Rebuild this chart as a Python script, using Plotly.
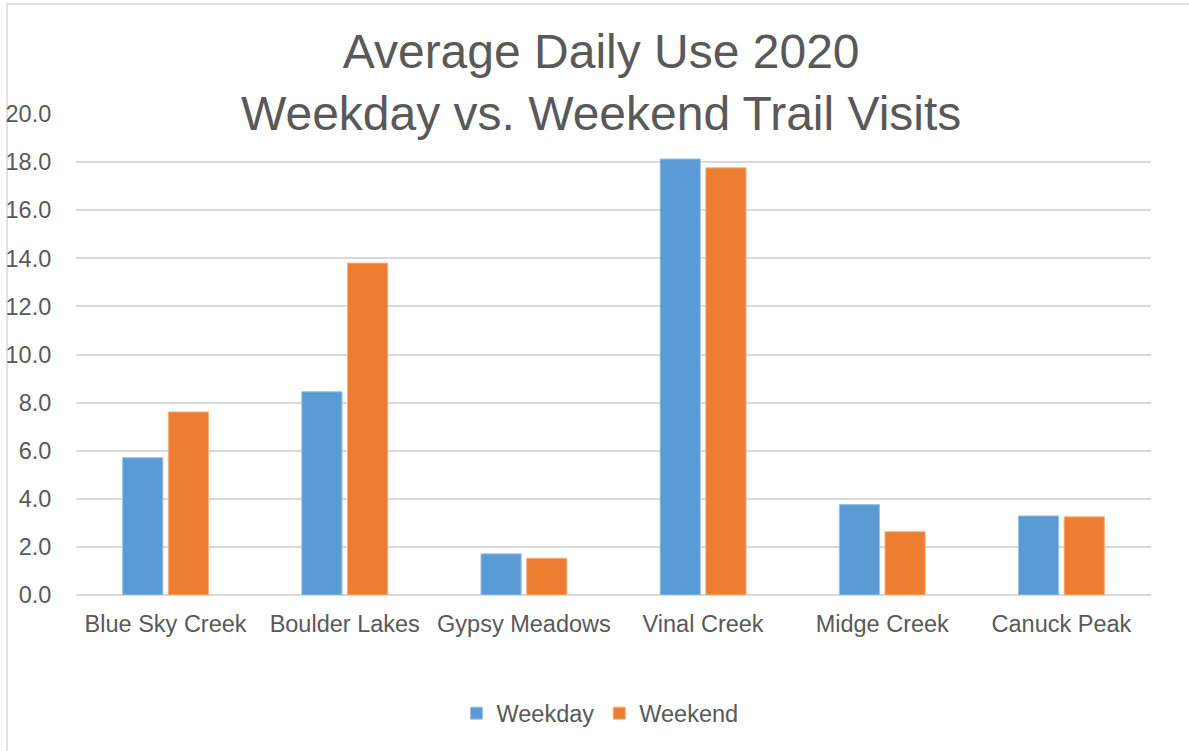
import plotly.graph_objects as go

categories = ["Blue Sky Creek", "Boulder Lakes", "Gypsy Meadows", "Vinal Creek", "Midge Creek", "Canuck Peak"]
weekday = [5.71, 8.45, 1.71, 18.13, 3.76, 3.29]
weekend = [7.61, 13.8, 1.53, 17.76, 2.63, 3.25]
y_ticks = [0, 2, 4, 6, 8, 10, 12, 14, 16, 18, 20]

FONT = "Liberation Sans, Arial, sans-serif"
GREY = "#595959"
GRID = "#D9D9D9"

# plot-area geometry in pixels (used to express paper coordinates)
PL, PR, PT, PB = 76, 1151, 114, 595.5
PW, PH = PR - PL, PB - PT

def px_x(x):
    return (x - PL) / PW

def px_y(y):
    return (PB - y) / PH

fig = go.Figure()
fig.add_trace(go.Bar(name="Weekday", x=categories, y=weekday,
                     marker=dict(color="#5B9BD5", line=dict(color="#9DC3E6", width=1))))
fig.add_trace(go.Bar(name="Weekend", x=categories, y=weekend,
                     marker=dict(color="#ED7D31", line=dict(color="#F4B183", width=1))))

fig.update_layout(
    width=1189, height=751,
    margin=dict(l=PL, r=1189 - PR, t=PT, b=751 - PB, pad=0, autoexpand=False),
    paper_bgcolor="white", plot_bgcolor="white",
    barmode="group", bargap=0.49, bargroupgap=0.12,
    font=dict(family=FONT, color=GREY, size=23.5),
    showlegend=True,
    legend=dict(orientation="h", x=px_x(600), xanchor="center", y=px_y(714), yanchor="middle",
                font=dict(family=FONT, size=23.5, color=GREY), itemwidth=30, traceorder="normal",
                bgcolor="rgba(0,0,0,0)"),
    xaxis=dict(showgrid=False, showline=False, ticks="outside", ticklen=8, tickcolor="rgba(0,0,0,0)",
               automargin=False, tickfont=dict(family=FONT, size=23.5, color=GREY)),
    yaxis=dict(range=[0, 20], tickvals=y_ticks, tickformat=".1f", showgrid=True, gridcolor=GRID, gridwidth=1.5,
               zeroline=True, zerolinecolor=GRID, zerolinewidth=1.5, showline=False,
               ticks="outside", ticklen=19, tickcolor="rgba(0,0,0,0)", automargin=False,
               tickfont=dict(family=FONT, size=23.5, color=GREY)),
    annotations=[dict(text="Average Daily Use 2020<br>Weekday vs. Weekend Trail Visits",
                      xref="paper", yref="paper", x=px_x(601), y=px_y(82),
                      xanchor="center", yanchor="middle", showarrow=False,
                      font=dict(family=FONT, size=48, color=GREY))],
    shapes=[dict(type="rect", xref="paper", yref="paper",
                 x0=px_x(7), x1=px_x(1200), y0=px_y(800), y1=px_y(4),
                 line=dict(color=GRID, width=1.5), fillcolor="rgba(0,0,0,0)", layer="below")],
)

fig.write_html("out.html", config={"displayModeBar": False},
               post_script="document.body.style.margin='0px';")
